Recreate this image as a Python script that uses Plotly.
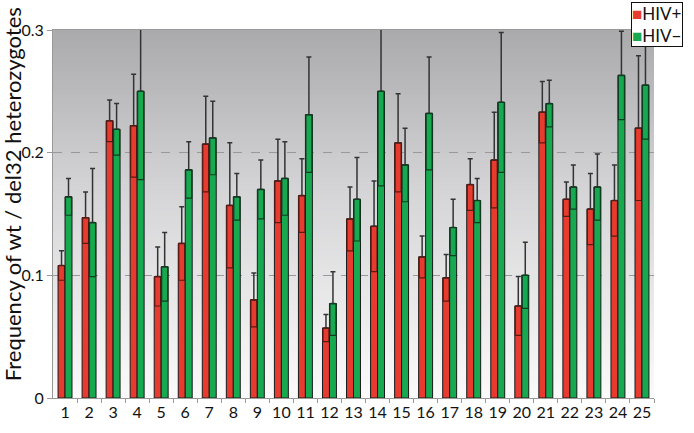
import plotly.graph_objects as go

categories = list(range(1, 26))
tick_labels = [str(c) for c in categories]

hiv_pos = [0.108, 0.147, 0.226, 0.222, 0.099, 0.126, 0.207, 0.157, 0.080, 0.177,
           0.165, 0.057, 0.146, 0.140, 0.208, 0.115, 0.098, 0.174, 0.194, 0.075,
           0.233, 0.162, 0.154, 0.161, 0.220]
hiv_pos_err = [0.012, 0.021, 0.017, 0.042, 0.024, 0.030, 0.039, 0.051, 0.022, 0.034,
               0.030, 0.011, 0.026, 0.037, 0.040, 0.017, 0.019, 0.021, 0.039, 0.024,
               0.025, 0.014, 0.029, 0.029, 0.059]

hiv_neg = [0.164, 0.143, 0.219, 0.250, 0.107, 0.186, 0.212, 0.164, 0.170, 0.179,
           0.231, 0.077, 0.162, 0.250, 0.190, 0.232, 0.139, 0.161, 0.241, 0.100,
           0.240, 0.172, 0.172, 0.263, 0.255]
hiv_neg_err = [0.015, 0.044, 0.021, 0.072, 0.028, 0.023, 0.030, 0.019, 0.024, 0.030,
               0.047, 0.026, 0.034, 0.077, 0.030, 0.046, 0.023, 0.018, 0.057, 0.027,
               0.019, 0.018, 0.027, 0.036, 0.044]

series = [
    ("HIV+", hiv_pos, hiv_pos_err, "#e63b2e", "#5a1a14"),
    ("HIV\u2212", hiv_neg, hiv_neg_err, "#17a94f", "#0f3d22"),
]

fig = go.Figure()

for i, (name, vals, errs, col, dark) in enumerate(series):
    fig.add_trace(go.Bar(
        x=categories, y=vals, name=name, offsetgroup=str(i),
        marker=dict(color=col, line=dict(color="#1a1a1a", width=1)),
        error_y=dict(type="data", array=errs, arrayminus=[0] * len(errs),
                     symmetric=False, color="#333333", thickness=1.5, width=2.5),
        showlegend=False))
    # inner part of the error range, drawn inside the bar
    fig.add_trace(go.Bar(
        x=categories, y=errs, base=[v - e for v, e in zip(vals, errs)],
        offsetgroup=str(i),
        marker=dict(color="rgba(0,0,0,0)", line=dict(color=dark, width=1.2)),
        width=0.25, hoverinfo="skip", showlegend=False))

# vertical gray gradient behind the plotting area
def mix(c0, c1, t):
    return tuple(round(a + (b - a) * t) for a, b in zip(c0, c1))

bottom_c, mid_c, top_c = (250, 250, 250), (214, 214, 216), (170, 170, 172)
n_strips = 80
shapes = []
for k in range(n_strips):
    t = (k + 0.5) / n_strips
    c = mix(bottom_c, mid_c, t / 0.55) if t < 0.55 else mix(mid_c, top_c, (t - 0.55) / 0.45)
    shapes.append(dict(type="rect", xref="paper", yref="paper", layer="below",
                       x0=0, x1=1, y0=k / n_strips, y1=1,
                       fillcolor="rgb(%d,%d,%d)" % c, line=dict(width=0)))

fig.update_layout(
    width=694, height=433,
    margin=dict(l=53, r=40, t=30, b=35),
    paper_bgcolor="white", plot_bgcolor="white",
    barmode="group", bargap=0.42, bargroupgap=0,
    font=dict(family="Lato, Noto Sans, sans-serif", color="#111111"),
    showlegend=False, shapes=shapes,
)

fig.update_xaxes(
    range=[0.5, 25.5], tickmode="array", tickvals=categories, ticktext=tick_labels,
    ticks="", tickfont=dict(size=16), showgrid=False, zeroline=False,
    showline=True, linecolor="#999999", linewidth=1, mirror=True,
    minor=dict(tickmode="array", tickvals=[c + 0.5 for c in categories],
               ticks="outside", ticklen=4, tickcolor="#999999", showgrid=False),
)
fig.update_yaxes(
    range=[0, 0.3], tickmode="array", tickvals=[0, 0.1, 0.2, 0.3],
    ticktext=["0", "0.1", "0.2", "0.3"], tickfont=dict(size=16),
    ticks="outside", ticklen=5, tickcolor="#999999",
    showgrid=True, gridcolor="#999999", griddash="dash", gridwidth=1,
    zeroline=False, showline=True, linecolor="#999999", linewidth=1,
)

# y-axis title (placed like the original, slightly above the axis centre)
fig.add_annotation(
    xref="paper", yref="paper", x=-0.068, y=0.554, xanchor="center", yanchor="middle",
    text="Frequency of wt / del32 heterozygotes", textangle=-90, showarrow=False,
    font=dict(size=22, color="#111111"))

legend_text = ("<span style='color:#e63b2e'>\u25a0</span>HIV+<br>"
               "<span style='color:#17a94f'>\u25a0</span>HIV\u2212")
fig.add_annotation(
    xref="paper", yref="paper", x=0.962, y=1.076, xanchor="left", yanchor="top",
    text=legend_text, showarrow=False, align="left", font=dict(size=17, color="#111111"),
    bgcolor="white", bordercolor="#111111", borderwidth=1, borderpad=0)

fig.write_html("out.html", config={"displayModeBar": False},
               post_script="document.body.style.margin='0';")
